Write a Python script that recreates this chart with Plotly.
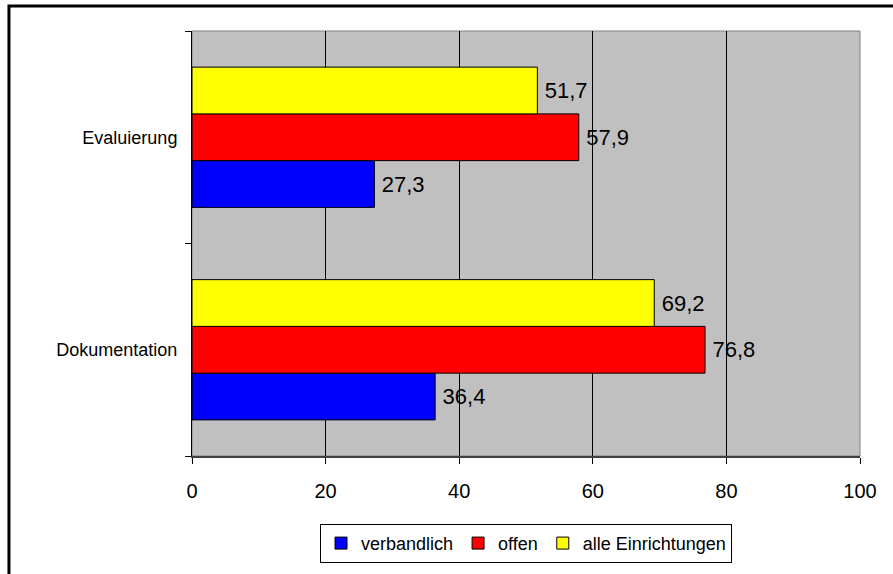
import plotly.graph_objects as go

categories = ['Dokumentation', 'Evaluierung']
verbandlich = [36.4, 27.3]
offen = [76.8, 57.9]
alle = [69.2, 51.7]

series = [
    ('verbandlich', verbandlich, '#0000FF'),
    ('offen', offen, '#FF0000'),
    ('alle Einrichtungen', alle, '#FFFF00'),
]

fig = go.Figure()
for name, vals, col in series:
    fig.add_trace(go.Bar(
        y=categories, x=vals, name=name, orientation='h',
        marker=dict(color=col, line=dict(color='black', width=1)),
        text=vals, texttemplate='\u2009%{x:.1f}', textposition='outside',
        textfont=dict(size=22, color='black'), cliponaxis=False,
    ))

fig.update_layout(
    width=893, height=574,
    barmode='group', bargap=0.34, bargroupgap=0,
    separators=',.',
    font=dict(family='Liberation Sans, Arial', size=18, color='black'),
    paper_bgcolor='white', plot_bgcolor='#C0C0C0',
    margin=dict(l=192, r=33, t=31, b=117),
    showlegend=True,
    legend=dict(
        orientation='h', x=0.5, xanchor='center', y=-0.157, yanchor='top',
        bordercolor='black', borderwidth=1, font=dict(size=18),
        itemwidth=30, traceorder='normal',
    ),
    shapes=[
        # gray plot border (top/right)
        dict(type='rect', xref='paper', yref='paper', x0=0, x1=1, y0=0, y1=1,
             line=dict(color='#808080', width=1), layer='below'),
        # outer frame
        dict(type='rect', xref='paper', yref='paper', x0=-0.274, x1=2, y0=-1, y1=1.0587,
             line=dict(color='black', width=3)),
    ],
)

fig.update_xaxes(
    range=[0, 100], dtick=20, showgrid=True, gridcolor='black', gridwidth=1,
    showline=True, linecolor='#404040', linewidth=2,
    ticks='outside', ticklen=6, tickcolor='black', zeroline=False,
    tickfont=dict(size=20), ticklabelstandoff=10,
)
fig.update_yaxes(
    categoryorder='array', categoryarray=categories,
    showline=True, linecolor='black', linewidth=1,
    ticks='outside', ticklen=6, tickson='boundaries', tickcolor='black',
    showgrid=False, tickfont=dict(size=18), ticklabelstandoff=10,
)

fig.write_html('out.html', config={'displayModeBar': False},
               post_script="document.body.style.margin='0';")
